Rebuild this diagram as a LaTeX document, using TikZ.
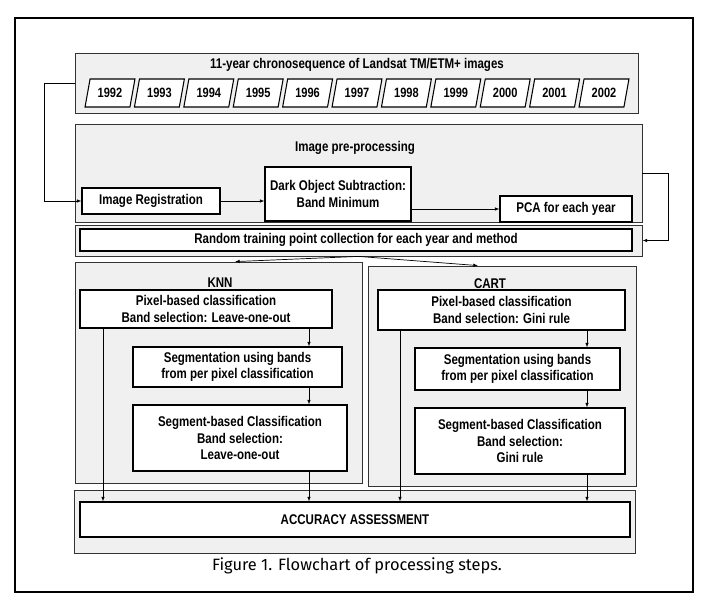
\documentclass[tikz,border=0pt]{standalone}
\usepackage{fontspec}
\setmainfont{Liberation Sans}[FakeStretch=0.82]
\newfontfamily\capfont{Fira Sans}
\usetikzlibrary{positioning, shapes.geometric, arrows.meta}

\tikzset{
  dims/.style 2 args={minimum width=#1*0.3mm, minimum height=#2*0.3mm},
  panel/.style={draw=black!80, line width=0.7pt, fill=black!6, inner sep=0pt},
  box/.style={draw, line width=0.9pt, fill=white, align=center, inner sep=1pt,
    font=\bfseries\fontsize{12}{14}\selectfont},
  yearbox/.style={draw, line width=0.9pt, fill=white, trapezium,
    trapezium left angle=72, trapezium right angle=108, trapezium stretches=true,
    inner sep=0pt, font=\bfseries\fontsize{11.5}{13}\selectfont},
  title/.style={font=\bfseries\fontsize{12}{14}\selectfont},
  flow/.style={-{Latex[length=4pt,width=3pt]}, line width=0.6pt},
}

\begin{document}
\begin{tikzpicture}[x=0.3mm, y=-0.3mm]
  \useasboundingbox (0,0) rectangle (706,606);
  \draw[line width=0.9pt] (15,18) rectangle (693,592);

  % image series
  \node[panel, dims={563}{60}] (chrono) at (356.5,83) {};
  \node[title] (chronotitle) at (357,65) {11-year chronosequence of Landsat TM/ETM+ images};
  \foreach \i in {0,...,10} {
    \pgfmathtruncatemacro\yr{1992+\i}
    \node[yearbox, dims={50}{28}] (y\yr) at (110+49.4*\i,93) {\yr};
  }

  % pre-processing
  \node[panel, dims={567}{98}] (prep) at (358.5,173) {};
  \node[title] (preptitle) at (355,148) {Image pre-processing};
  \node[box, dims={138}{26}] (reg) at (151,201) {Image Registration};
  \node[box, dims={146}{54}] (dos) at (338,194) {Dark Object Subtraction:\\Band Minimum};
  \node[box, dims={132}{26}] (pca) at (566,209) {PCA for each year};

  \node[panel, dims={567}{31}] (trainband) at (358.5,240.5) {};
  \node[box, dims={552}{22}] (train) at (356,240) {Random training point collection for each year and method};

  % KNN
  \node[panel, dims={287}{221}] (knn) at (218.5,372.5) {};
  \node[title] (knntitle) at (220,283) {KNN};
  \node[box, dims={252}{38}] (knnpix) at (206,309) {Pixel-based classification\\Band selection: Leave-one-out};
  \node[box, dims={209}{40}] (knnseg) at (237.5,367) {Segmentation using bands\\from per pixel classification};
  \node[box, dims={214}{66}] (knnobj) at (240,438) {Segment-based Classification\\Band selection:\\Leave-one-out};

  % CART
  \node[panel, dims={268}{220}] (cart) at (502,376) {};
  \node[title] (carttitle) at (490,284) {CART};
  \node[box, dims={247}{40}] (cartpix) at (501.5,310) {Pixel-based classification\\Band selection: Gini rule};
  \node[box, dims={205}{42}] (cartseg) at (517.5,369) {Segmentation using bands\\from per pixel classification};
  \node[box, dims={210}{66}] (cartobj) at (520,441) {Segment-based Classification\\Band selection:\\Gini rule};

  \node[panel, dims={561}{63}] (accband) at (354.5,521.5) {};
  \node[box, dims={550}{35}] (acc) at (355,519.5) {ACCURACY ASSESSMENT};

  \node[font=\capfont\fontsize{14}{16}\selectfont] (caption) at (357,566) {Figure 1. Flowchart of processing steps.};

  \coordinate (knntip) at (235,0);
  \coordinate (carttip) at (478,0);
  \coordinate (knnleft) at (103,0);
  \coordinate (knnmid) at (309,0);
  \coordinate (cartleft) at (400,0);
  \coordinate (cartmid) at (587,0);

  \draw[flow] (chrono.west) -- ++(-30,0) |- (reg.west);
  \draw[flow] (reg.east) -- (reg.east -| dos.west);
  \draw[flow] (pca.west -| dos.east) -- (pca.west);
  \draw[flow] (prep.east) -- ++(26,0) |- (trainband.east);
  \draw[flow] (trainband.south) -- (knn.north -| knntip);
  \draw[flow] (trainband.south) -- (cart.north -| carttip);

  \draw[flow] (knnpix.south -| knnmid) -- (knnseg.north -| knnmid);
  \draw[flow] (knnseg.south -| knnmid) -- (knnobj.north -| knnmid);
  \draw[flow] (knnpix.south -| knnleft) -- (acc.north -| knnleft);
  \draw[flow] (knnobj.south -| knnmid) -- (acc.north -| knnmid);

  \draw[flow] (cartpix.south -| cartmid) -- (cartseg.north -| cartmid);
  \draw[flow] (cartseg.south -| cartmid) -- (cartobj.north -| cartmid);
  \draw[flow] (cartpix.south -| cartleft) -- (acc.north -| cartleft);
  \draw[flow] (cartobj.south -| cartmid) -- (acc.north -| cartmid);
\end{tikzpicture}
\end{document}
